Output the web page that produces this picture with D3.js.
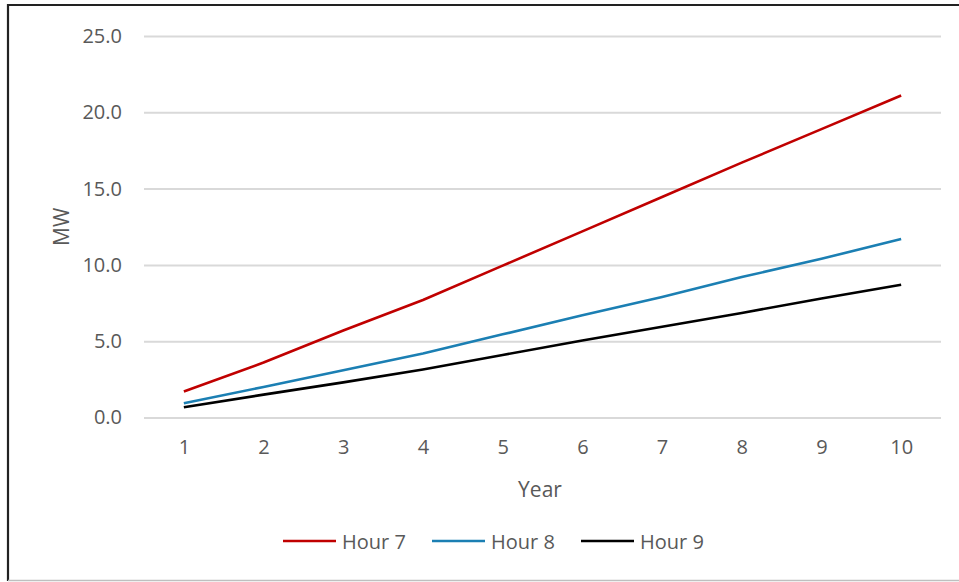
<!DOCTYPE html>
<html>
<head>
<meta charset="utf-8">
<script src="https://cdn.jsdelivr.net/npm/d3@7"></script>
<style>
  html, body { margin: 0; padding: 0; background: #fff; }
  svg { display: block; }
  text { font-family: "Open Sans", sans-serif; fill: #595959; }
</style>
</head>
<body>
<svg id="chart" width="959" height="582"></svg>
<script>
// Years on the horizontal axis
const years = [1, 2, 3, 4, 5, 6, 7, 8, 9, 10];

// Load growth (MW) by hour of day
const hour7 = [1.7, 3.6, 5.7, 7.7, 9.95, 12.2, 14.45, 16.7, 18.9, 21.1];
const hour8 = [0.93, 2.0, 3.1, 4.2, 5.45, 6.7, 7.9, 9.2, 10.4, 11.7];
const hour9 = [0.67, 1.5, 2.3, 3.15, 4.1, 5.05, 5.95, 6.85, 7.8, 8.7];

const seriesNames = ["Hour 7", "Hour 8", "Hour 9"];
const seriesColors = ["#c00000", "#1b7fb3", "#000000"];
const yTicks = [0, 5, 10, 15, 20, 25];

const series = [hour7, hour8, hour9].map((vals, i) => ({
  name: seriesNames[i],
  color: seriesColors[i],
  values: vals.map((v, j) => ({ year: years[j], value: v }))
}));

const svg = d3.select("#chart");

// Outer frame
svg.append("path")
  .attr("d", "M8,581 L8,5 L959,5")
  .attr("fill", "none")
  .attr("stroke", "#222")
  .attr("stroke-width", 2.2);
svg.append("line")
  .attr("x1", 8).attr("x2", 959).attr("y1", 580.5).attr("y2", 580.5)
  .attr("stroke", "#bfbfbf").attr("stroke-width", 1.5);

const plotLeft = 144, plotRight = 941, plotTop = 36, plotBottom = 417.5;

const x = d3.scalePoint().domain(years).range([plotLeft, plotRight]).padding(0.5);
const y = d3.scaleLinear().domain([0, 25]).range([plotBottom, plotTop]);

// Horizontal gridlines + y labels
const yAxis = d3.axisLeft(y)
  .tickValues(yTicks)
  .tickFormat(d3.format(".1f"))
  .tickSize(-(plotRight - plotLeft))
  .tickPadding(22);
const gy = svg.append("g").attr("transform", `translate(${plotLeft},0)`).call(yAxis);
gy.select(".domain").remove();
gy.selectAll(".tick line").attr("stroke", "#d9d9d9").attr("stroke-width", 2);
gy.selectAll(".tick text")
  .attr("font-size", 20)
  .attr("fill", "#595959")
  .style("font-family", "'Open Sans', sans-serif");

// x labels
const xAxis = d3.axisBottom(x).tickSize(0).tickPadding(22);
const gx = svg.append("g").attr("transform", `translate(0,${plotBottom})`).call(xAxis);
gx.select(".domain").remove();
gx.selectAll(".tick text")
  .attr("font-size", 20)
  .attr("fill", "#595959")
  .style("font-family", "'Open Sans', sans-serif");

// Axis titles
svg.append("text")
  .attr("x", 540).attr("y", 489)
  .attr("text-anchor", "middle")
  .attr("dominant-baseline", "central")
  .attr("font-size", 21)
  .text("Year");
svg.append("text")
  .attr("transform", `translate(61,${(plotTop + plotBottom) / 2}) rotate(-90)`)
  .attr("text-anchor", "middle")
  .attr("dominant-baseline", "central")
  .attr("font-size", 21)
  .text("MW");

// Lines
const line = d3.line().x(d => x(d.year)).y(d => y(d.value));
svg.append("g").selectAll("path")
  .data(series)
  .join("path")
  .attr("d", d => line(d.values))
  .attr("fill", "none")
  .attr("stroke", d => d.color)
  .attr("stroke-width", 2.6)
  .attr("stroke-linejoin", "round");

// Legend
const legendX = [283, 432, 581];
const lg = svg.append("g").selectAll("g")
  .data(series)
  .join("g")
  .attr("transform", (d, i) => `translate(${legendX[i]},541)`);
lg.append("line")
  .attr("x1", 0).attr("x2", 53).attr("y1", 0).attr("y2", 0)
  .attr("stroke", d => d.color).attr("stroke-width", 2.6);
lg.append("text")
  .attr("x", 59).attr("y", 0)
  .attr("dominant-baseline", "central")
  .attr("font-size", 20)
  .text(d => d.name);
</script>
</body>
</html>
